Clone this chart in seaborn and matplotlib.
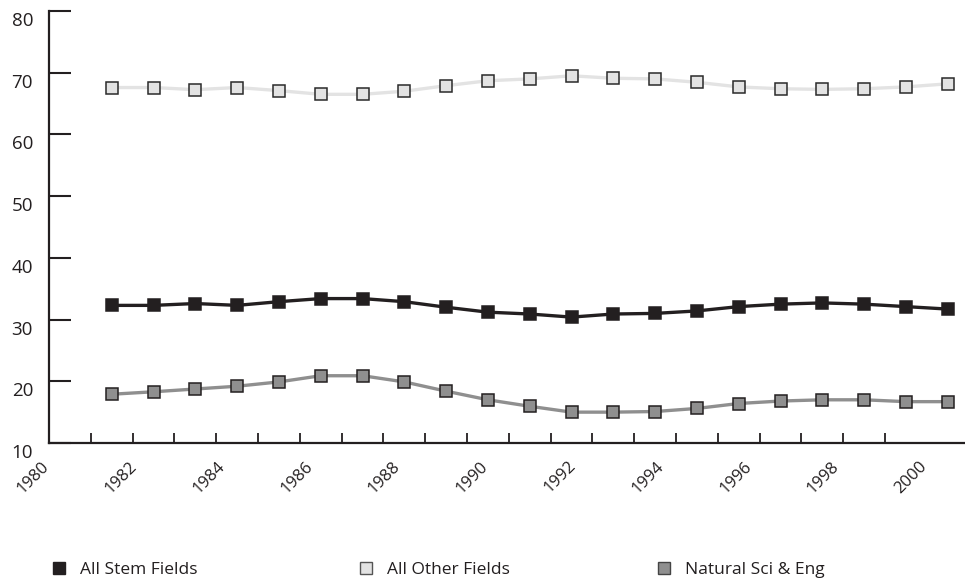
import matplotlib
matplotlib.use("Agg")
import matplotlib.pyplot as plt
import matplotlib.transforms as mtransforms
from matplotlib.lines import Line2D
import seaborn as sns
import pandas as pd

# ---- data ----
years = list(range(1981, 2002))
stem_fields = [32.3, 32.3, 32.6, 32.3, 32.9, 33.4, 33.4, 32.9, 32.0, 31.2, 30.9,
               30.4, 30.9, 31.0, 31.4, 32.1, 32.5, 32.7, 32.5, 32.1, 31.7]
other_fields = [67.6, 67.6, 67.25, 67.6, 67.1, 66.5, 66.5, 67.0, 67.9, 68.7, 69.0,
                69.5, 69.1, 69.0, 68.45, 67.7, 67.4, 67.3, 67.4, 67.7, 68.2]
natural_sci = [17.9, 18.3, 18.75, 19.2, 19.9, 20.9, 20.9, 19.9, 18.4, 17.0, 15.95,
               15.0, 15.0, 15.1, 15.6, 16.4, 16.8, 17.0, 17.0, 16.7, 16.7]
series_names = ["All Stem Fields", "All Other Fields", "Natural Sci & Eng"]
x_tick_labels = ["1980", "1982", "1984", "1986", "1988", "1990",
                 "1992", "1994", "1996", "1998", "2000"]
y_ticks = [10, 20, 30, 40, 50, 60, 70, 80]

df = pd.DataFrame({"year": years, "stem": stem_fields,
                   "other": other_fields, "natural": natural_sci})
df["xpos"] = df["year"] + 0.5

sns.set_style("white")
plt.rcParams["font.family"] = ["Open Sans", "DejaVu Sans"]

INK = "#231f20"
W, H = 965, 586
fig = plt.figure(figsize=(W / 100, H / 100), dpi=100)
ax = fig.add_axes([49 / W, (H - 443) / H, (W - 49) / W, (443 - 11) / H])

styles = {
    "other": dict(color="#e3e3e3", lw=2.4, mfc="#e3e3e3", mec="#2a2a2a"),
    "stem": dict(color=INK, lw=2.4, mfc=INK, mec=INK),
    "natural": dict(color="#8f8f8f", lw=2.4, mfc="#8f8f8f", mec=INK),
}
for key in ["other", "natural", "stem"]:
    st = styles[key]
    sns.lineplot(data=df, x="xpos", y=key, ax=ax, color=st["color"], linewidth=st["lw"],
                 marker="s", markersize=8, markerfacecolor=st["mfc"],
                 markeredgecolor=st["mec"], markeredgewidth=1.1, zorder=3)

ax.set_xlim(1980, 1980 + (W - 49) / 41.8)
ax.set_ylim(10, 80)
ax.set_xlabel("")
ax.set_ylabel("")

for s in ["top", "right"]:
    ax.spines[s].set_visible(False)
for s in ["left", "bottom"]:
    ax.spines[s].set_color(INK)
    ax.spines[s].set_linewidth(1.6)

ax.tick_params(which="both", left=True, bottom=True)

# y axis
ax.set_yticks(y_ticks)
ax.set_yticklabels([str(v) for v in y_ticks])
ax.tick_params(axis="y", direction="in", length=16, width=1.5, color=INK,
               pad=11.5, labelsize=13.5, labelcolor=INK)
for lab in ax.get_yticklabels():
    lab.set_transform(lab.get_transform() +
                      mtransforms.ScaledTranslation(0, -8 / 100, fig.dpi_scale_trans))

# x axis: tick marks every year, labels spread evenly
ax.set_xticks(list(range(1980, 2002)), minor=True)
label_pos = [1980 + 2.1 * k for k in range(len(x_tick_labels))]
ax.set_xticks(label_pos)
ax.set_xticklabels(x_tick_labels)
ax.tick_params(axis="x", which="minor", direction="in", length=7.5, width=1.3, color=INK)
ax.tick_params(axis="x", which="major", length=0, pad=15, labelsize=12, labelcolor=INK)
for lab in ax.get_xticklabels():
    lab.set_rotation(45)
    lab.set_ha("right")
    lab.set_va("center")
    lab.set_rotation_mode("anchor")
    lab.set_transform(lab.get_transform() +
                      mtransforms.ScaledTranslation(-2 / 100, 0, fig.dpi_scale_trans))

# legend (three entries spread along the bottom)
leg_specs = [
    (series_names[0], INK, INK, 50),
    (series_names[1], "#e3e3e3", "#555555", 357),
    (series_names[2], "#8f8f8f", "#444444", 655),
]
for name, fc, ec, xpx in leg_specs:
    h = Line2D([], [], marker="s", linestyle="none", markersize=9,
               markerfacecolor=fc, markeredgecolor=ec, markeredgewidth=1.0)
    lg = fig.legend(handles=[h], labels=[name], loc="center left",
                    bbox_to_anchor=(xpx / W, (H - 570) / H), frameon=False,
                    borderpad=0, borderaxespad=0, handlelength=1.0, handletextpad=0.7,
                    prop={"family": ["Open Sans", "DejaVu Sans"], "size": 12.5})
    for t in lg.get_texts():
        t.set_color(INK)

fig.savefig("out.png", dpi=100)
